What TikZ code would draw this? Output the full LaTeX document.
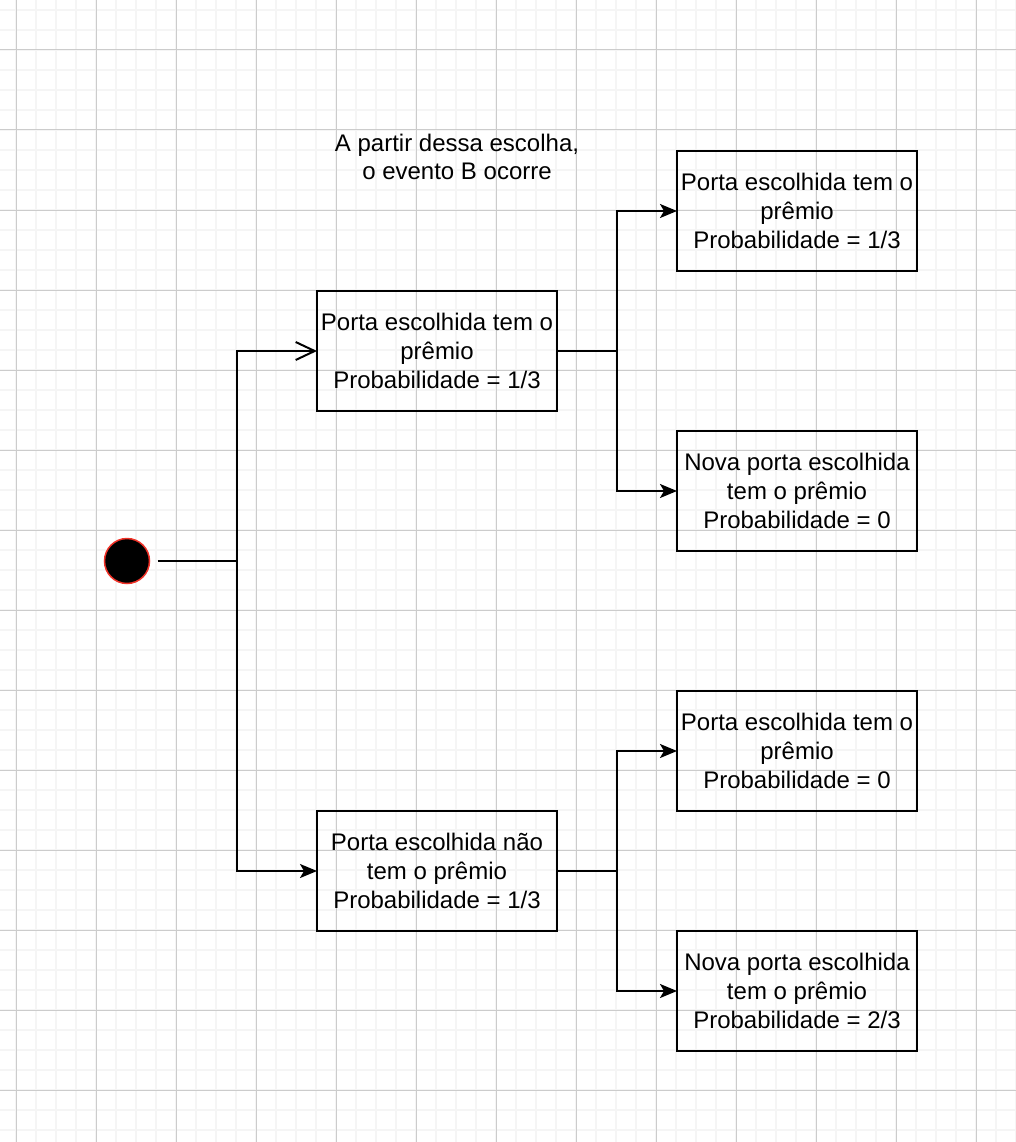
\documentclass[tikz,border=0pt]{standalone}
\usepackage{fontspec}
\setmainfont{Liberation Sans}
\usetikzlibrary{positioning,arrows.meta,calc}
\definecolor{dotred}{RGB}{240,50,40}

\begin{document}
\begin{tikzpicture}[x=1pt,y=-1pt,
  minorline/.style={draw=black!4, line width=2pt},
  majorline/.style={draw=black!20, line width=1pt},
  box/.style={draw, line width=2pt, minimum width=240pt, minimum height=120pt,
    inner sep=0pt, outer sep=0pt, align=center, font=\fontsize{24}{28.8}\selectfont},
  note/.style={align=center, inner sep=0pt, font=\fontsize{24}{28.8}\selectfont},
  startdot/.style={circle, fill=black, draw=dotred, line width=1.5pt,
    minimum size=45pt, inner sep=0pt, outer sep=0pt},
  link/.style={line width=2pt},
  openhead/.style={link, -{Straight Barb[length=19pt,width=18pt,line width=2pt]}},
  fullhead/.style={link, -{Stealth[length=17pt,width=14pt,inset=4pt]}},
]

  % background grid
  \useasboundingbox (0,0) rectangle (1016,1142);
  \fill[white] (0,0) rectangle (1016,1142);
  \foreach \x in {16,36,...,1016} \draw[minorline] (\x,0) -- (\x,1142);
  \foreach \y in {10,30,...,1142} \draw[minorline] (0,\y) -- (1016,\y);
  \foreach \x in {16,96,...,1016} \draw[majorline] (\x,0) -- (\x,1142);
  \foreach \y in {50,130,...,1142} \draw[majorline] (0,\y) -- (1016,\y);

  \node[startdot] (root) at (127,561) {};

  \node[box] (b1) at (437,351) {Porta escolhida tem o\\prêmio\\Probabilidade = 1/3};
  \node[box] (b2) [below=400pt of b1] {Porta escolhida não\\tem o prêmio\\Probabilidade = 1/3};

  \node[box] (c1) [above right=20pt and 120pt of b1] {Porta escolhida tem o\\prêmio\\Probabilidade = 1/3};
  \node[box] (c2) [below right=20pt and 120pt of b1] {Nova porta escolhida\\tem o prêmio\\Probabilidade = 0};
  \node[box] (c3) [above right=0pt and 120pt of b2] {Porta escolhida tem o\\prêmio\\Probabilidade = 0};
  \node[box] (c4) [below right=0pt and 120pt of b2] {Nova porta escolhida\\tem o prêmio\\Probabilidade = 2/3};

  \node[note] (choice) at (457,157) {A partir dessa escolha,\\o evento B ocorre};

  \coordinate (j0) at ($(root)+(110,0)$);
  \coordinate (j1) at ($(b1.east)+(60,0)$);
  \coordinate (j2) at ($(b2.east)+(60,0)$);

  \draw[link, shorten <=8pt] (root) -- (j0);
  \draw[openhead] (j0) |- (b1);
  \draw[fullhead] (j0) |- (b2);

  \draw[link] (b1) -- (j1);
  \draw[fullhead] (j1) |- (c1);
  \draw[fullhead] (j1) |- (c2);

  \draw[link] (b2) -- (j2);
  \draw[fullhead] (j2) |- (c3);
  \draw[fullhead] (j2) |- (c4);

\end{tikzpicture}
\end{document}
